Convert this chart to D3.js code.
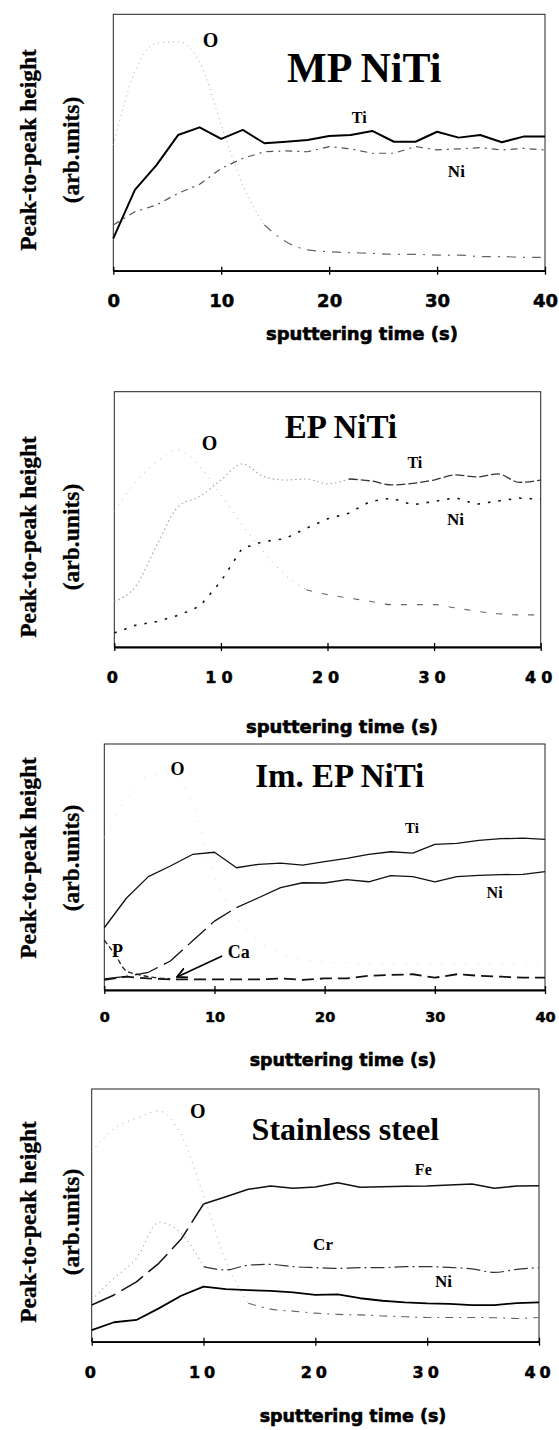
<!DOCTYPE html>
<html>
<head>
<meta charset="utf-8">
<script src="https://cdn.jsdelivr.net/npm/d3@7"></script>
<style>
body { margin: 0; background: #fff; }
</style>
</head>
<body>
<svg width="559" height="1430"></svg>
<script>
// sputtering time (s), sampled every 2 s
const tSec = [0,2,4,6,8,10,12,14,16,18,20,22,24,26,28,30,32,34,36,38,40];
const xTicks = [0,10,20,30,40];

// MP NiTi (arb. units, 0 = x axis, 100 = top of box)
const mpTi = [12.6,31.5,41.2,52.9,55.9,51.4,54.9,49.7,50.3,51.0,52.5,52.9,54.5,50.3,50.3,54.2,51.9,52.9,50.1,52.3,52.3];
const mpNi = [17.8,23.0,25.6,30.2,33.7,39.9,43.8,46.4,46.7,46.4,48.4,47.5,45.8,45.8,48.4,47.1,47.5,48.0,47.1,47.7,47.1];
const mpO  = [49.0,77.6,88.7,89.3,81.5,56.8,33.4,17.8,11.3,8.1,7.4,7.0,6.8,6.4,6.4,6.1,6.1,5.5,5.5,5.2,5.2];

// EP NiTi
const epTi = [17.9,23.7,40.0,55.0,58.9,65.4,71.7,66.8,65.4,65.8,63.9,65.8,65.1,63.5,64.1,65.4,67.4,66.6,67.8,64.5,65.4];
const epNi = [5.5,8.5,10.0,12.4,15.9,25.7,38.7,41.3,42.4,46.5,50.2,52.4,57.0,58.3,55.7,57.0,58.5,55.9,57.2,58.3,57.9];
const epO  = [53.1,64.8,72.6,77.2,70.7,59.6,47.8,37.4,28.3,22.4,20.5,19.2,17.9,16.6,16.6,16.6,15.3,14.0,13.0,12.6,12.6];

// Im. EP NiTi
const imTi = [25.3,37.3,46.1,50.4,55.1,56.0,49.7,51.1,51.6,50.8,52.2,53.5,55.1,56.2,55.6,59.2,59.6,60.8,61.5,61.7,61.2];
const imNi = [4.5,5.5,7.2,11.8,19.9,28.0,33.5,37.5,41.6,43.6,43.5,44.9,44.0,46.5,46.1,44.0,46.1,46.6,46.9,47.0,48.1];
const imCa = [4.1,5.4,4.7,4.3,4.3,4.3,4.3,4.3,4.7,4.1,4.7,4.7,5.8,6.1,6.4,5.0,6.4,5.8,5.4,5.0,5.0];
const imO  = [62,78,87,88,76,46,30,20,15,12.5,11.5,11,10.8,10.6,10.5,10.4,10.4,10.3,10.3,10.2,10.2];
const imPt = [0,1,2,3,4,6];
const imP  = [20.3,14.2,7.7,6.4,5.4,4.6];

// Stainless steel
const ssFe = [14.5,18.5,23.7,31.0,40.6,54.5,57.4,60.3,61.6,60.7,61.2,62.9,61.1,61.3,61.5,61.6,62.0,62.4,60.7,61.6,61.7];
const ssCr = [16.5,25.1,33.0,47.2,42.9,29.7,28.4,30.3,30.6,29.7,29.3,29.0,29.3,29.3,29.7,29.7,29.4,28.8,27.4,28.6,29.3];
const ssNi = [4.6,7.7,8.6,13.2,18.2,21.8,20.8,20.4,20.1,19.5,18.5,18.7,17.2,16.2,15.6,15.2,15.0,14.5,14.5,15.3,15.6];
const ssO  = [75.2,84.4,88.4,91.3,81.8,58.0,31.7,15.2,12.9,12.1,11.3,10.8,10.6,10.2,9.9,9.6,9.6,9.6,9.5,9.2,9.6];

const serif = '"Liberation Serif","Times New Roman",serif';
const sans = '"DejaVu Sans",sans-serif';

const solid = (c, w) => ({ dash: null, color: c, width: w });

const panels = [
  {
    title: 'MP NiTi', titleSize: 42, titleAt: [16.1, 73.6],
    box: { x: 113.3, y: 14.3, w: 431.7, h: 256.4 },
    tickFont: 18, tickSpacing: 0, tickPad: 20,
    xTitle: [362, 340, 18], yTitle: 150,
    series: [
      { t: tSec, v: mpO, smooth: true, parts: [
        { from: 0, to: 14, dash: '1,4', color: '#a8a8a8', width: 1 },
        { from: 14, to: 40, dash: '9,7,2,7', color: '#666', width: 1.2 }] },
      { t: tSec, v: mpNi, parts: [{ from: 0, to: 40, dash: '7,5,2,5', color: '#555', width: 1.2 }] },
      { t: tSec, v: mpTi, parts: [{ from: 0, to: 40, ...solid('#000', 2) }] }
    ],
    labels: [['O', 8.3, 87.2, 20], ['Ti', 22.1, 57.6, 16], ['Ni', 31.0, 36.6, 17]]
  },
  {
    title: 'EP NiTi', titleSize: 33, titleAt: [16.0, 81.9],
    box: { x: 114.3, y: 391.7, w: 426.4, h: 255.3 },
    tickFont: 16, tickSpacing: 5, tickPad: 21,
    xTitle: [342, 733, 18], yTitle: 537,
    series: [
      { t: tSec, v: epO, smooth: true, parts: [
        { from: 0, to: 18, dash: '1,6', color: '#b0b0b0', width: 1 },
        { from: 18, to: 40, dash: '6,10', color: '#666', width: 1.1 }] },
      { t: tSec, v: epTi, smooth: true, parts: [
        { from: 0, to: 22, dash: '1.5,3', color: '#a0a0a0', width: 1.1 },
        { from: 22, to: 40, dash: '9,3', color: '#333', width: 1.3 }] },
      { t: tSec, v: epNi, parts: [{ from: 0, to: 40, dash: '2.5,8', color: '#111', width: 1.6 }] }
    ],
    labels: [['O', 8.2, 77.2, 20], ['Ti', 27.5, 70.1, 16], ['Ni', 31.2, 47.8, 17]]
  },
  {
    title: 'Im. EP NiTi', titleSize: 33, titleAt: [13.7, 82.5],
    box: { x: 104.3, y: 744, w: 440.7, h: 246 },
    tickFont: 14.5, tickSpacing: 0, tickPad: 18,
    xTitle: [343, 1066, 17.5], yTitle: 858,
    series: [
      { t: tSec, v: imO, smooth: true, parts: [{ from: 0, to: 40, dash: '1,11', color: '#d8d8d8', width: 1 }] },
      { t: tSec, v: imCa, parts: [{ from: 0, to: 40, dash: '12,6', color: '#111', width: 1.8 }] },
      { t: imPt, v: imP, smooth: true, parts: [{ from: 0, to: 6, dash: '5,3', color: '#222', width: 1.3 }] },
      { t: tSec, v: imNi, parts: [
        { from: 0, to: 12, dash: '24,7', color: '#111', width: 1.3 },
        { from: 12, to: 40, ...solid('#111', 1.3) }] },
      { t: tSec, v: imTi, parts: [{ from: 0, to: 40, ...solid('#111', 1.3) }] }
    ],
    labels: [['O', 6.0, 87.4, 18], ['Ti', 27.3, 63.8, 15], ['Ni', 34.7, 37.4, 16],
             ['P', 0.7, 13.4, 18], ['Ca', 11.2, 13.0, 18]],
    arrow: [[10.7, 13.8], [6.6, 5.3]]
  },
  {
    title: 'Stainless steel', titleSize: 32, titleAt: [14.3, 79.8],
    box: { x: 91.7, y: 1089, w: 447.3, h: 252.7 },
    tickFont: 16, tickSpacing: 4, tickPad: 21,
    xTitle: [353, 1422, 17.5], yTitle: 1222,
    series: [
      { t: tSec, v: ssO, smooth: true, parts: [
        { from: 0, to: 14, dash: '1,5', color: '#aaa', width: 1 },
        { from: 14, to: 40, dash: '8,6,2,6', color: '#666', width: 1.1 }] },
      { t: tSec, v: ssCr, smooth: true, parts: [
        { from: 0, to: 10, dash: '1,4', color: '#999', width: 1.1 },
        { from: 10, to: 40, dash: '14,4,2,4', color: '#333', width: 1.2 }] },
      { t: tSec, v: ssFe, parts: [
        { from: 0, to: 10, dash: '26,7', color: '#111', width: 1.5 },
        { from: 10, to: 40, ...solid('#111', 1.6) }] },
      { t: tSec, v: ssNi, parts: [{ from: 0, to: 40, ...solid('#000', 1.8) }] }
    ],
    labels: [['O', 8.8, 88.5, 20], ['Fe', 28.9, 65.9, 16], ['Cr', 19.8, 36.2, 17], ['Ni', 30.7, 21.6, 17]]
  }
];

const svg = d3.select('svg');

svg.append('defs').append('marker')
  .attr('id', 'arrowHead')
  .attr('viewBox', '0 -5 10 10')
  .attr('refX', 9).attr('refY', 0)
  .attr('markerWidth', 7).attr('markerHeight', 7)
  .attr('orient', 'auto')
  .append('path')
  .attr('d', 'M0,-4.5L9,0L0,4.5')
  .attr('fill', 'none').attr('stroke', '#000').attr('stroke-width', 1.6);

function drawPanel(p) {
  const g = svg.append('g').attr('transform', `translate(${p.box.x},${p.box.y})`);
  const x = d3.scaleLinear().domain([0, 40]).range([0, p.box.w]);
  const y = d3.scaleLinear().domain([0, 100]).range([p.box.h, 0]);

  g.append('rect')
    .attr('width', p.box.w).attr('height', p.box.h)
    .attr('fill', 'none').attr('stroke', '#222').attr('stroke-width', 1);

  p.series.forEach(s => {
    const pts = s.t.map((t, i) => [t, s.v[i]]);
    const line = d3.line()
      .x(d => x(d[0])).y(d => y(d[1]))
      .curve(s.smooth ? d3.curveMonotoneX : d3.curveLinear);
    s.parts.forEach(part => {
      const seg = pts.filter(d => d[0] >= part.from && d[0] <= part.to);
      g.append('path').datum(seg)
        .attr('d', line)
        .attr('fill', 'none')
        .attr('stroke', part.color)
        .attr('stroke-width', part.width)
        .attr('stroke-dasharray', part.dash)
        .attr('stroke-linejoin', 'round');
    });
  });

  // x axis, ticks crossing the line
  const ax = g.append('g')
    .attr('transform', `translate(0,${p.box.h})`)
    .call(d3.axisBottom(x).tickValues(xTicks).tickSize(4).tickSizeOuter(0).tickPadding(p.tickPad));
  ax.select('.domain').attr('stroke-width', 1.8);
  ax.selectAll('.tick line').attr('stroke-width', 1.3);
  ax.selectAll('text')
    .attr('font-family', sans).attr('font-weight', 'bold')
    .attr('font-size', p.tickFont).attr('letter-spacing', p.tickSpacing)
    .attr('fill', '#000').attr('stroke', '#000').attr('stroke-width', 0.5);
  const axUp = g.append('g')
    .attr('transform', `translate(0,${p.box.h})`)
    .call(d3.axisTop(x).tickValues(xTicks).tickSize(4).tickFormat(''));
  axUp.select('.domain').remove();
  axUp.selectAll('.tick line').attr('stroke-width', 1.3);

  g.append('text')
    .attr('x', x(p.titleAt[0])).attr('y', y(p.titleAt[1]))
    .attr('font-family', serif).attr('font-weight', 'bold')
    .attr('font-size', p.titleSize)
    .text(p.title);

  p.labels.forEach(l => {
    g.append('text')
      .attr('x', x(l[1])).attr('y', y(l[2]))
      .attr('font-family', serif).attr('font-weight', 'bold')
      .attr('font-size', l[3])
      .text(l[0]);
  });

  if (p.arrow) {
    g.append('line')
      .attr('x1', x(p.arrow[0][0])).attr('y1', y(p.arrow[0][1]))
      .attr('x2', x(p.arrow[1][0])).attr('y2', y(p.arrow[1][1]))
      .attr('stroke', '#000').attr('stroke-width', 1.6)
      .attr('marker-end', 'url(#arrowHead)');
  }

  svg.append('text')
    .attr('x', p.xTitle[0]).attr('y', p.xTitle[1])
    .attr('text-anchor', 'middle')
    .attr('font-family', sans).attr('font-weight', 'bold')
    .attr('font-size', p.xTitle[2])
    .attr('stroke', '#000').attr('stroke-width', 0.6)
    .text('sputtering time (s)');

  [['Peak-to-peak height', 28], ['(arb.units)', 71]].forEach(([txt, cx]) => {
    svg.append('text')
      .attr('transform', `translate(${cx},${p.yTitle}) rotate(-90)`)
      .attr('text-anchor', 'middle').attr('dy', '0.35em')
      .attr('font-family', serif).attr('font-weight', 'bold')
      .attr('font-size', 23.5)
      .attr('stroke', '#000').attr('stroke-width', 0.3)
      .text(txt);
  });
}

panels.forEach(drawPanel);
</script>
</body>
</html>
